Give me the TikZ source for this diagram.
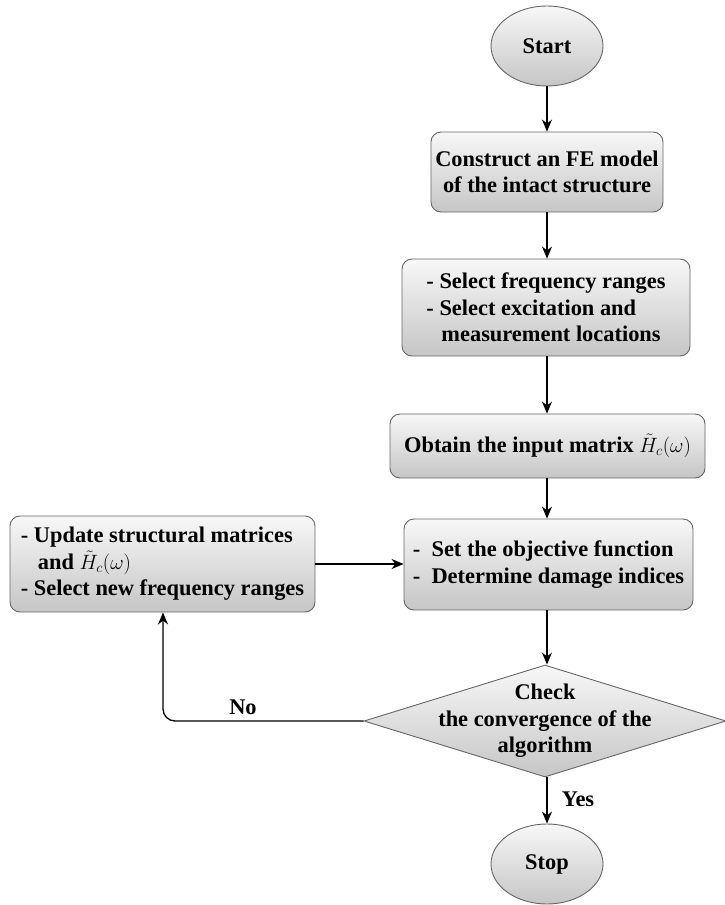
\documentclass[tikz,border=0pt]{standalone}
\usepackage{fontspec}
\setmainfont{Liberation Serif}
\usetikzlibrary{shapes.geometric,arrows.meta}
\begin{document}
\begin{tikzpicture}[x=1pt,y=-1pt,
  every node/.style={font=\fontsize{22.4}{26.5}\selectfont\bfseries},
  shade/.style={top color=gray!6, bottom color=gray!45, draw=black!60, line width=0.9pt},
  box/.style={shade, rounded corners=10pt, inner sep=0pt, align=center},
  term/.style={shade, ellipse, inner sep=0pt, minimum width=112pt, minimum height=80pt},
  decision/.style={shade, diamond, inner sep=0pt, minimum width=362pt, minimum height=112pt},
  conn/.style={line width=1.3pt, -{Stealth[length=12pt,width=10pt]}},
  lbl/.style={inner sep=0pt}
]
\useasboundingbox (0,0) rectangle (724,905);

\node[term] (start) at (547,46) {Start};
\node[box, minimum width=232pt, minimum height=80pt] (b1) at (547,172)
  {Construct an FE model\\of the intact structure};
\node[box, minimum width=288pt, minimum height=97pt, align=left] (b2) at (546,307.5)
  {- Select frequency ranges\\- Select excitation and\\\hspace{15pt}measurement locations};
\node[box, minimum width=315pt, minimum height=64pt] (b3) at (547.5,446)
  {Obtain the input matrix\ $\tilde{H}_c(\omega)$};
\node[box, minimum width=289pt, minimum height=91pt, align=left] (b4) at (548.5,564.5)
  {-\ \ Set the objective function\\-\ \ Determine damage indices};
\node[box, minimum width=305pt, minimum height=96pt, align=left] (bl) at (162.5,564)
  {- Update structural matrices\\\hspace{17pt}and\ $\tilde{H}_c(\omega)$\\- Select new frequency ranges};
\node[decision, label={[align=center]center:{Check\\the convergence of the\\algorithm}}] (dia) at (545,721) {};
\node[term] (stop) at (547,864) {Stop};

\coordinate (col) at (547,0);
\coordinate (corner) at (163,721);

\draw[conn] (start.south -| col) -- (b1.north -| col);
\draw[conn] (b1.south -| col) -- (b2.north -| col);
\draw[conn] (b2.south -| col) -- (b3.north -| col);
\draw[conn] (b3.south -| col) -- (b4.north -| col);
\draw[conn] (b4.south -| col) -- (dia.north -| col);
\draw[conn] (bl.east |- 0,564) -- (b4.west |- 0,564);
\draw[conn, rounded corners=12pt] (dia.west) -- (corner) -- (corner |- bl.south);
\draw[conn] (dia.south -| col) -- (stop.north -| col);

\node[lbl] (no) at (243,707) {No};
\node[lbl] (yes) at (578,799) {Yes};
\end{tikzpicture}
\end{document}
